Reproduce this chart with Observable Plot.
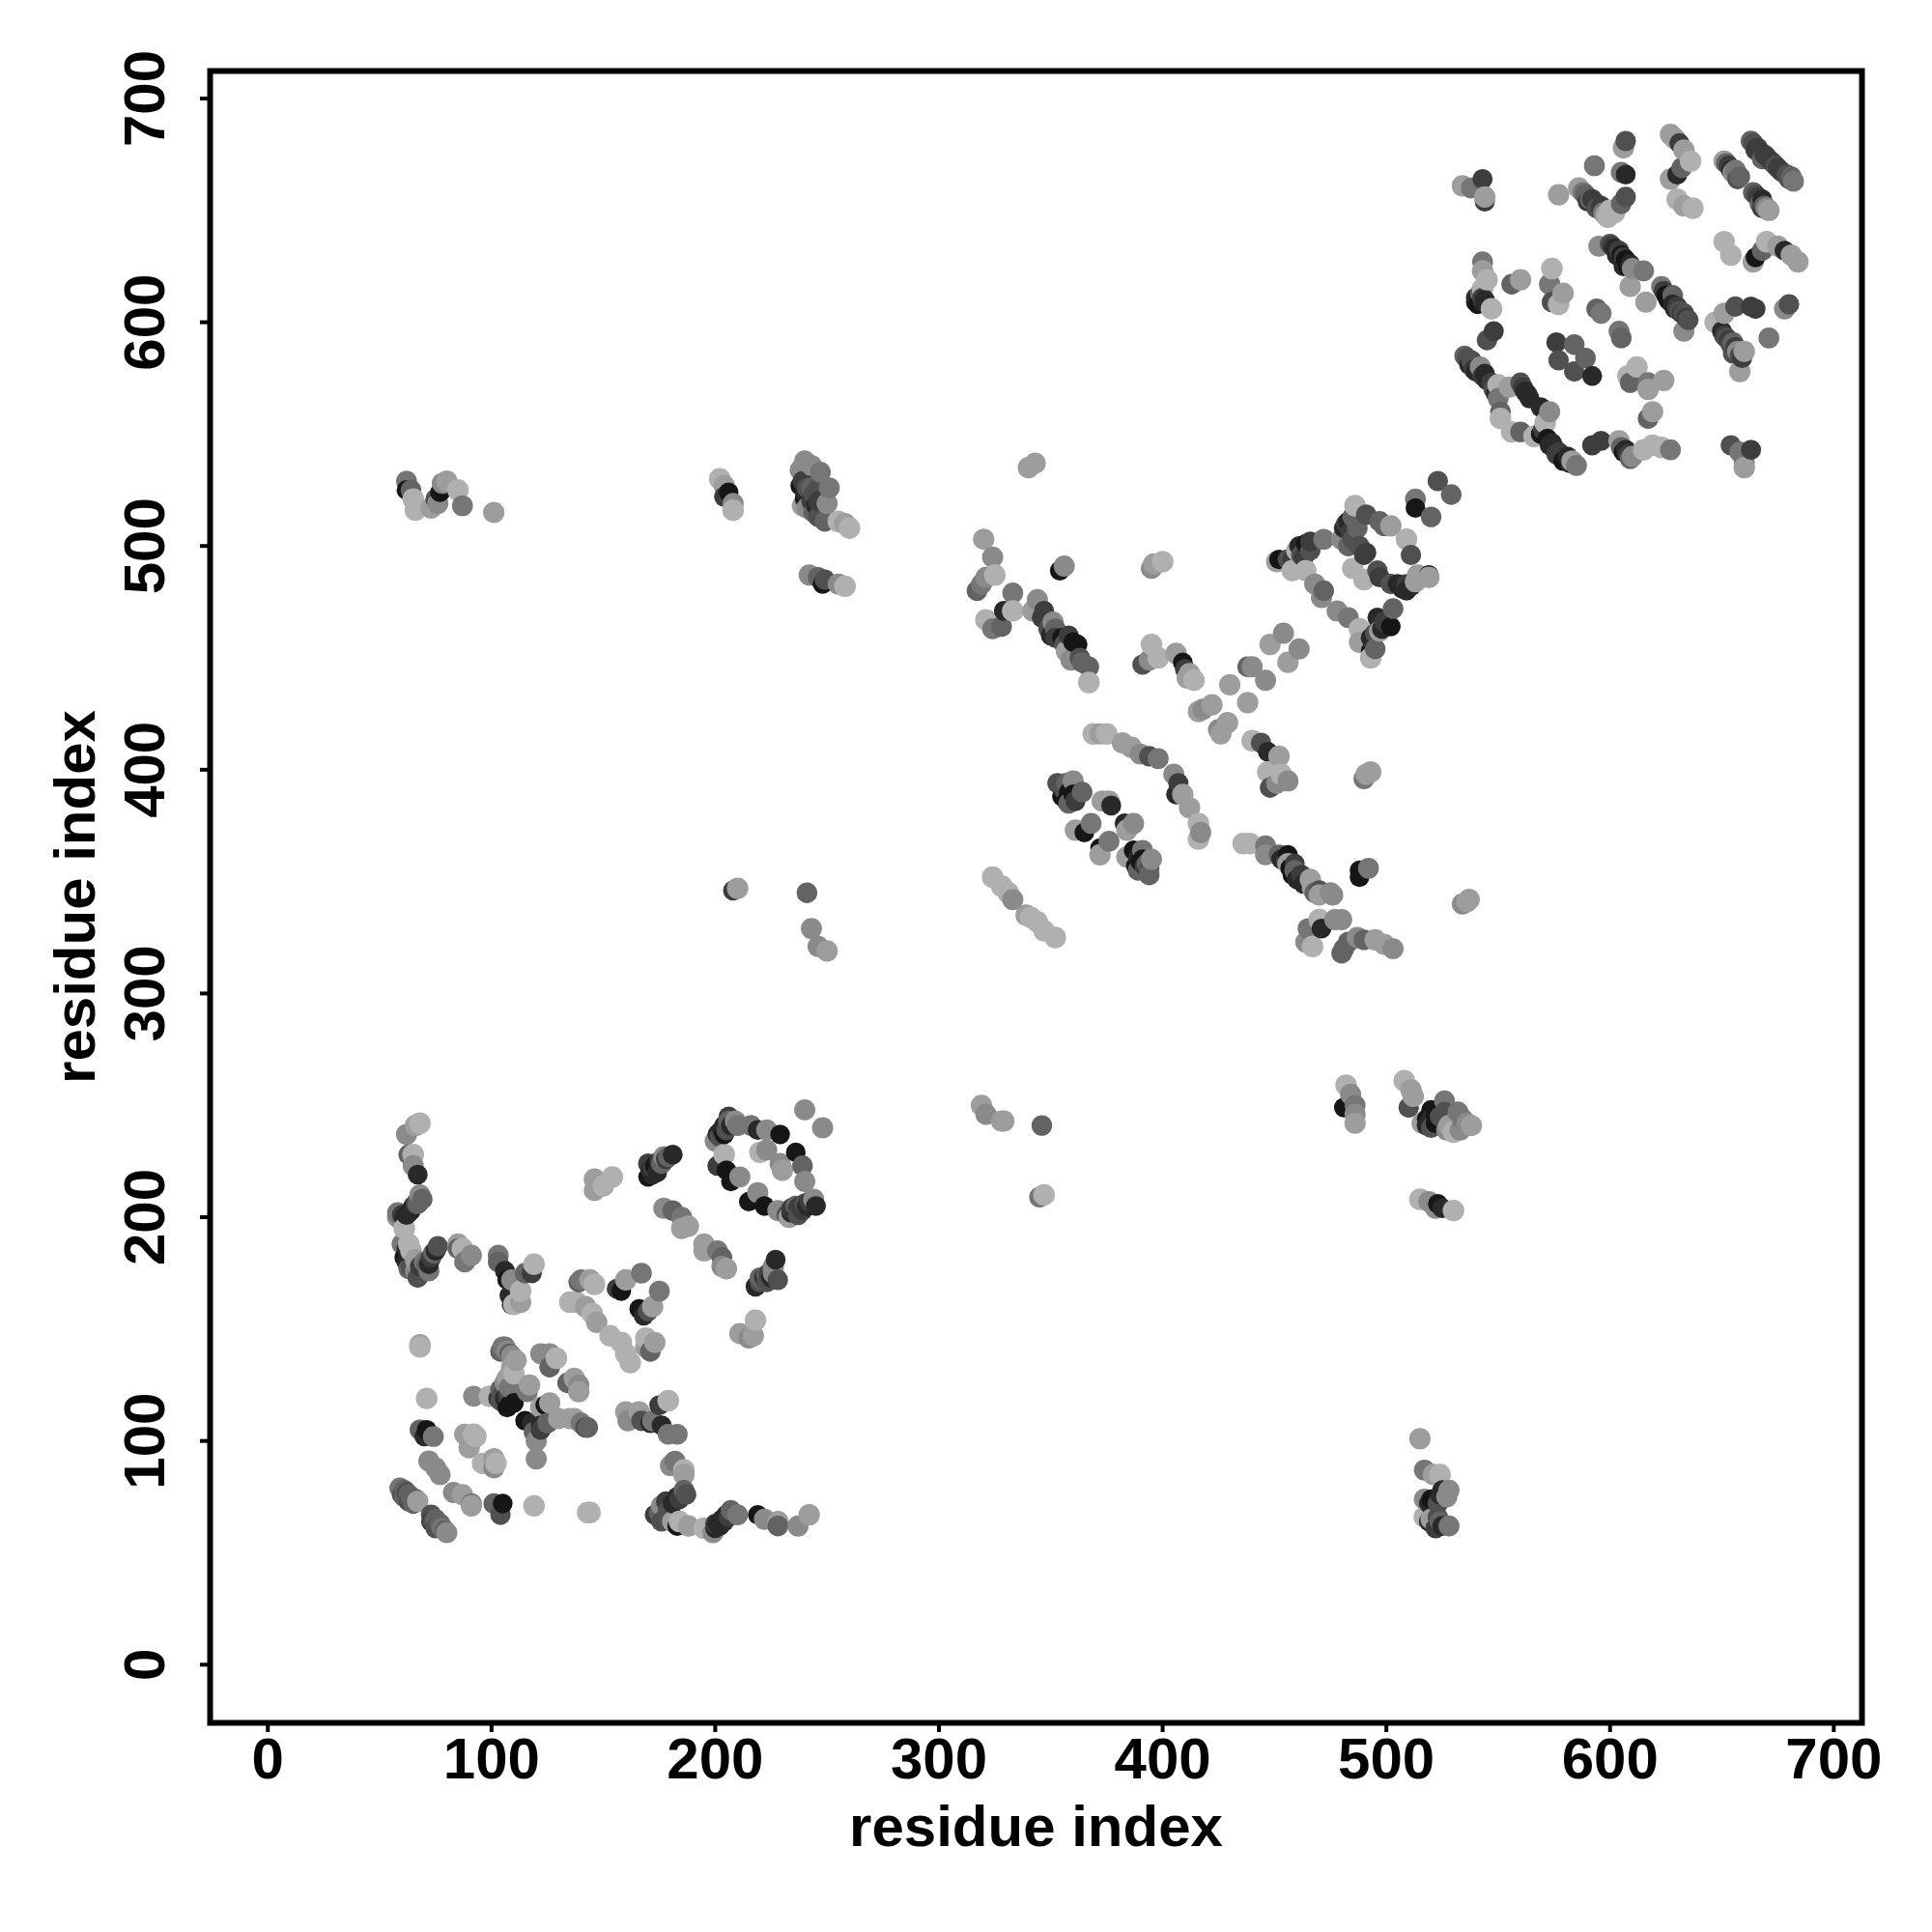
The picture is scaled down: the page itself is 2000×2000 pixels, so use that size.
<!DOCTYPE html>
<html><head><meta charset="utf-8">
<script src="https://cdn.jsdelivr.net/npm/d3@7"></script>
<script src="https://cdn.jsdelivr.net/npm/@observablehq/plot@0.6"></script>
<style>html,body{margin:0;padding:0;background:#fff}</style>
</head><body><div id="chart"></div>
<script>
// each contact: [residue i, residue j, shade 1 (darkest) .. 9 (lightest)]
const stemLeft=[[62,237,7],[66,241,8],[68,242,9],[63,228,5],[65,228,9],[65,223,7],[67,219,2],[68,210,7],[67,206,5],[69,208,5],[58,200,7],[58,202,6],[60,201,3],[61,200,2],[62,201,2],[63,202,2],[64,203,2],[65,205,2],[66,206,3],[67,207,5],[61,195,9],[60,188,6],[63,188,9],[64,185,9],[61,182,1],[63,177,5],[67,173,4],[66,176,7],[66,181,8],[71,179,5],[72,176,6],[73,182,3],[75,185,2],[76,187,4],[85,188,8],[85,186,5],[87,186,9],[88,180,6],[91,183,7],[62,186,2],[62,180,2],[64,178,4],[68,178,3],[70,180,6],[72,179,2],[74,184,5]];
const stemMid=[[103,183,6],[103,180,5],[106,176,2],[107,172,1],[109,172,7],[115,175,5],[118,175,3],[119,179,9],[108,165,2],[109,161,2],[113,162,8],[113,167,9],[110,161,9]];
const triangleA=[[139,171,5],[140,172,6],[144,172,8],[146,170,9],[135,162,9],[138,162,9],[142,160,8],[145,157,9],[147,153,8],[153,147,9],[158,144,9],[160,139,9],[162,135,9],[156,168,3],[158,167,1],[160,172,8],[167,175,6],[175,167,6],[166,159,1],[168,156,2],[170,158,4],[172,160,8],[171,140,5],[169,142,8],[169,146,9],[173,144,8]];
const sheetB=[[146,212,8],[146,217,8],[150,214,9],[154,218,9],[170,218,1],[170,224,3],[171,221,2],[173,223,1],[174,220,2],[175,225,3],[177,227,7],[181,228,2],[177,204,7],[181,203,5],[185,200,6],[185,195,8],[188,196,8],[195,188,8],[195,185,8],[201,185,6],[203,182,5],[203,178,7],[205,177,8],[211,148,8],[215,146,7],[217,147,8],[218,154,9],[218,169,2],[220,171,4],[228,172,4],[222,173,2],[224,175,3],[226,178,7],[227,181,2],[172,219,2],[176,224,5],[178,226,3],[179,227,5],[172,222,3],[219,170,2],[221,172,5],[223,174,5],[225,176,4],[223,171,4],[225,173,2],[226,175,7],[220,173,5]];
const ring=[[200,234,7],[201,237,2],[202,238,2],[203,239,2],[204,241,2],[206,245,3],[209,243,7],[210,241,6],[216,241,6],[219,239,2],[223,239,7],[229,237,1],[223,230,7],[220,229,9],[236,229,1],[239,223,5],[229,224,7],[230,221,8],[240,216,7],[201,223,3],[204,228,9],[205,221,1],[207,216,1],[211,218,7],[219,211,7],[215,207,1],[222,205,1],[228,203,7],[233,200,8],[232,201,4],[234,202,2],[236,203,2],[237,204,3],[238,205,3],[240,206,4],[244,208,7],[245,205,2],[240,248,7],[248,240,7],[202,236,4],[204,237,1],[205,239,4],[207,241,2],[206,243,5],[241,205,2],[242,207,3],[239,203,3],[236,205,5],[234,204,3],[237,201,4]];
const clusterC=[[68,143,8],[68,142,9],[71,119,9],[92,120,7],[99,120,9],[105,142,6],[106,142,6],[104,140,5],[109,138,7],[111,136,8],[110,130,9],[106,126,7],[104,123,5],[108,122,4],[103,119,3],[106,119,2],[104,118,4],[108,116,1],[107,115,1],[117,125,8],[116,122,6],[122,139,7],[126,139,7],[129,137,9],[126,133,5],[137,128,8],[134,126,5],[139,125,7],[139,122,8],[122,115,8],[124,116,1],[126,117,8],[107,120,3],[105,121,4],[108,124,6],[107,128,8],[109,133,8],[107,140,7],[108,139,5],[110,117,1]];
const clusterD=[[115,109,1],[118,108,2],[122,107,2],[119,104,5],[120,100,7],[122,105,3],[125,108,5],[130,110,8],[135,110,8],[137,110,8],[140,108,6],[142,106,4],[143,106,5],[120,92,7],[68,105,5],[71,105,1],[70,102,2],[74,102,6],[88,103,8],[90,97,8],[92,103,9],[93,102,9],[72,91,7],[75,88,7],[77,85,7],[96,90,9],[101,92,8],[102,90,9],[101,88,7]];
const clusterE=[[83,77,7],[87,76,8],[91,72,6],[91,71,8],[101,72,5],[104,67,4],[105,72,1],[119,71,9],[143,68,9],[144,68,9],[59,79,6],[61,78,5],[62,77,4],[63,76,5],[64,75,5],[66,74,5],[67,73,8],[73,67,4],[75,65,5],[77,63,5],[78,61,6],[80,59,7],[60,76,4],[61,75,5],[63,73,4],[65,72,5],[74,64,4],[76,62,4],[79,60,5],[73,64,3],[75,61,4]];
const clusterF=[[160,113,8],[161,109,7],[166,113,8],[167,109,4],[172,109,6],[171,108,2],[176,107,2],[179,103,6],[183,103,6],[175,116,3],[179,118,9],[180,89,7],[182,91,6],[186,87,9],[186,85,8],[187,76,4],[183,75,2],[178,73,3],[176,71,7],[173,67,3],[176,64,4],[181,64,8],[183,62,1],[184,64,9],[188,62,8],[195,61,9],[199,59,7],[200,61,2],[201,63,2],[203,65,2],[205,67,2],[207,69,5],[210,67,6],[219,67,1],[222,65,7],[228,64,8],[228,62,5],[237,62,7],[242,67,8],[202,62,2],[204,64,2],[206,66,3],[200,63,3],[179,69,4],[181,72,2],[184,74,3],[186,78,5],[175,68,5]];
const rightLower=[[482,259,9],[484,255,7],[481,249,1],[486,250,6],[486,246,7],[486,242,8],[508,261,9],[511,257,8],[512,254,8],[510,249,4],[516,242,8],[518,244,1],[520,248,1],[522,242,1],[526,252,6],[526,247,4],[527,239,7],[530,238,9],[532,247,6],[536,242,7],[538,241,8],[515,208,9],[519,207,7],[523,206,1],[525,204,2],[522,204,7],[530,203,9],[515,101,8],[517,87,6],[521,85,8],[524,85,9],[517,74,7],[520,74,1],[524,76,2],[527,75,7],[528,78,7],[517,66,9],[519,64,2],[520,65,8],[524,64,5],[525,62,2],[528,62,6],[518,241,2],[520,244,2],[522,246,1],[524,245,4],[520,240,4],[527,244,4],[528,241,8],[533,239,7],[534,244,6],[519,72,2],[522,74,1],[523,72,4],[525,78,2],[522,61,3],[523,66,4]];
const isolated=[[319,250,8],[321,246,7],[328,243,8],[329,243,8],[346,241,5],[345,209,6],[347,210,9],[208,346,3],[210,347,8],[241,345,5],[243,329,7],[246,321,7],[250,319,8],[340,535,8],[343,537,8]];
const upperLeft=[[62,529,6],[62,525,1],[64,525,5],[65,521,9],[66,516,9],[75,521,4],[76,519,7],[73,517,8],[77,524,1],[78,528,7],[80,529,8],[85,525,9],[87,518,6],[101,515,8],[202,530,9],[204,527,8],[206,524,1],[204,522,3],[208,519,7],[208,516,9],[238,534,7],[240,538,7],[243,536,7],[247,533,6],[238,527,1],[243,526,5],[246,526,4],[251,526,6],[240,521,1],[239,518,8],[245,518,2],[250,519,7],[246,513,4],[249,511,5],[255,511,9],[258,510,8],[260,508,9],[242,487,7],[246,486,5],[249,485,4],[248,483,1],[255,483,7],[258,482,9],[239,529,3],[240,524,2],[241,526,4],[243,520,3],[244,523,4],[246,520,3],[241,517,7],[244,515,5]];
const centerA=[[320,503,8],[324,495,7],[317,480,5],[319,483,6],[321,486,7],[325,487,9],[333,479,6],[329,471,2],[333,471,9],[321,467,9],[324,463,6],[328,464,5],[344,476,7],[342,471,8],[347,471,3],[351,466,7],[352,463,5],[350,460,2],[355,459,1],[358,460,3],[357,453,8],[359,449,7],[362,456,1],[363,450,4],[367,446,5],[367,439,9],[354,489,1],[356,491,7],[395,490,7],[396,492,8],[400,493,9],[346,468,3],[349,463,4],[352,459,3],[356,456,4],[360,457,1],[364,448,5]];
const centerB=[[451,493,8],[452,494,1],[458,494,3],[458,489,9],[464,489,9],[464,501,1],[460,498,9],[466,498,4],[463,495,3],[472,503,6],[468,483,7],[472,480,5],[471,477,7],[478,471,7],[483,468,6],[486,518,9],[483,511,2],[481,508,2],[480,503,7],[483,500,5],[490,496,3],[491,514,4],[497,511,5],[499,509,5],[502,509,8],[485,490,9],[496,489,4],[497,486,3],[502,483,4],[509,503,9],[511,496,4],[507,481,2],[509,483,3],[514,487,8],[519,487,1],[519,486,8],[490,485,9],[523,529,4],[529,523,5],[513,521,6],[513,517,1],[520,513,5],[484,506,3],[482,510,3],[485,513,5],[485,503,4],[487,508,5],[488,500,4],[491,497,3],[505,483,2],[509,480,2],[511,482,2],[513,484,8],[461,500,2],[462,496,4],[456,494,4],[466,502,3]];
const centerC=[[503,472,5],[497,467,2],[502,464,1],[497,462,8],[493,459,2],[488,463,9],[488,457,8],[493,453,1],[493,450,9],[454,461,7],[448,456,8],[461,454,7],[456,448,8],[438,446,5],[440,446,7],[446,440,7],[430,438,8],[438,430,8],[418,427,7],[416,426,8],[422,429,8],[429,421,8],[425,418,7],[426,416,8],[496,468,2],[499,466,3],[498,463,2],[495,461,4],[494,456,2],[495,454,5]];
const centerD=[[391,447,4],[394,449,7],[395,456,9],[398,450,9],[406,452,8],[409,448,1],[410,445,3],[411,441,8],[412,443,8],[414,440,9],[369,416,9],[372,416,8],[375,416,9],[382,412,8],[386,410,8],[390,407,7],[394,406,4],[398,405,6],[405,398,7],[407,394,3],[406,389,2],[409,389,8],[412,383,8],[416,376,9],[417,372,7],[416,369,9],[444,412,4],[440,413,9],[447,408,2],[452,406,8],[447,399,9],[448,392,4],[451,394,7],[453,398,9],[456,395,7],[490,396,6],[491,398,8],[493,399,8]];
const centerE=[[353,394,4],[357,394,5],[360,395,7],[355,388,1],[360,389,1],[361,386,3],[364,390,5],[373,386,8],[377,384,2],[376,386,8],[383,376,2],[387,376,7],[384,373,8],[361,373,8],[365,372,1],[368,376,6],[372,365,1],[372,362,8],[376,368,6],[384,361,8],[387,364,1],[391,364,6],[388,357,1],[390,359,1],[394,356,4],[394,353,5],[395,360,7],[356,391,4],[358,390,1],[357,386,1],[391,360,1],[389,361,2],[392,357,3],[393,358,5],[389,355,5],[358,385,5]];
const centerF=[[324,352,9],[328,348,9],[331,345,9],[333,342,7],[339,335,8],[341,334,9],[344,332,9],[347,328,9],[352,325,9]];
const centerG=[[436,367,9],[439,367,9],[446,366,6],[446,362,7],[452,362,5],[456,362,1],[456,358,8],[459,358,3],[458,353,1],[460,351,2],[466,351,8],[467,347,8],[470,346,4],[470,344,8],[475,345,7],[476,344,7],[488,352,1],[488,355,1],[492,356,6],[465,329,6],[464,323,7],[467,321,9],[471,329,2],[470,333,9],[477,333,7],[480,333,7],[480,318,5],[481,320,5],[483,323,5],[487,325,7],[490,324,5],[495,324,8],[499,322,8],[503,320,7],[534,340,7],[536,341,8],[537,342,8],[453,360,2],[455,359,3],[457,356,1],[459,355,5],[462,353,3],[463,349,2],[468,345,5]];
const topA=[[534,661,8],[538,660,6],[543,664,3],[544,654,3],[544,656,8],[577,657,8],[586,660,8],[588,658,6],[591,655,5],[594,653,3],[596,650,3],[599,647,9],[602,649,9],[605,653,5],[607,656,4],[606,678,8],[607,681,4],[593,670,6],[605,667,6],[607,666,2],[627,664,8],[630,666,2],[632,669,5],[627,684,8],[629,682,8],[631,680,3],[633,677,8],[636,672,9],[630,655,9],[633,652,8],[637,651,9],[589,657,5],[590,654,3],[592,655,3],[594,651,4],[596,652,3],[597,649,6],[598,648,8],[600,650,9]];
const topB=[[663,681,5],[666,678,3],[669,675,3],[672,672,3],[675,669,3],[679,666,4],[682,663,6],[651,672,8],[653,670,3],[655,667,7],[658,665,5],[664,658,5],[668,655,2],[671,650,8],[651,636,9],[654,630,9],[664,627,8],[665,629,1],[670,636,9],[668,632,5],[675,634,8],[678,632,2],[681,630,8],[684,627,8],[664,680,4],[665,677,3],[667,676,3],[668,673,5],[670,674,3],[673,671,3],[674,670,4],[676,668,3],[677,667,3],[680,664,4],[681,665,5],[654,668,2],[656,668,6],[652,671,5],[657,664,4],[665,657,4],[666,656,3],[667,653,5],[669,652,5],[670,651,7],[668,651,3]];
const topC=[[595,634,7],[600,635,4],[604,632,3],[607,628,1],[610,624,7],[615,623,6],[609,616,8],[543,627,6],[543,623,8],[545,619,9],[543,615,9],[540,611,2],[543,609,2],[547,606,9],[548,596,3],[545,592,4],[556,617,5],[560,619,8],[573,617,8],[574,624,9],[573,617,6],[574,609,4],[577,608,9],[579,613,8],[594,606,5],[596,604,6],[604,596,6],[605,593,5],[601,634,3],[602,633,2],[603,630,2],[605,630,1],[606,629,3],[608,625,1],[606,625,2],[609,626,2],[540,609,2],[541,608,1],[543,611,3],[544,610,2],[542,613,5]];
const topD=[[623,616,6],[616,609,8],[627,609,1],[630,607,3],[633,604,4],[635,601,4],[633,596,7],[628,612,5],[651,604,8],[656,607,4],[665,606,3],[663,607,3],[680,608,4],[678,606,7],[671,593,6],[647,600,9],[651,594,3],[653,592,3],[655,591,5],[660,587,8],[659,584,3],[658,578,8],[576,591,3],[584,590,5],[577,583,4],[589,584,5],[584,578,4],[592,576,2],[612,580,9],[608,576,9],[609,573,5],[617,573,6],[624,574,8],[617,570,8],[619,560,8],[617,557,5],[624,614,3],[625,612,1],[626,610,1],[628,608,2],[629,606,2],[631,605,4],[632,604,3],[634,602,3],[650,596,2],[652,593,4],[654,590,4],[656,589,3],[657,587,7],[655,586,4],[658,585,4]];
const topE=[[535,585,5],[538,583,4],[542,580,7],[544,577,2],[547,573,3],[550,572,9],[555,571,8],[560,573,4],[561,571,3],[562,569,2],[551,560,5],[551,557,9],[569,562,2],[573,560,7],[571,555,9],[556,551,9],[560,551,5],[566,549,9],[569,550,1],[573,545,2],[577,542,3],[581,540,2],[583,538,8],[585,536,6],[592,545,3],[596,547,3],[604,547,8],[607,543,2],[610,540,7],[615,543,9],[619,545,9],[623,544,9],[627,543,6],[654,545,4],[658,542,6],[663,543,3],[660,537,6],[660,535,8],[536,584,4],[537,581,2],[539,579,3],[540,578,2],[543,576,3],[545,574,2],[548,570,4],[549,568,2],[550,566,6],[563,568,2],[564,566,2],[570,552,3],[572,548,1],[574,546,2],[575,544,2],[576,541,3],[578,540,3],[579,538,1],[582,537,2],[605,544,5],[606,542,1],[608,541,3],[609,539,5]];
const tickValues=[0,100,200,300,400,500,600,700];
const axisTitle="residue index";

const table=[stemLeft,stemMid,triangleA,sheetB,ring,clusterC,clusterD,clusterE,clusterF,rightLower,isolated,upperLeft,centerA,centerB,centerC,centerD,centerE,centerF,centerG,topA,topB,topC,topD,topE]
  .flat().map(([i,j,shade])=>({i,j,shade}));

const chart=Plot.plot({
  width:2000,height:2000,
  marginLeft:217,marginRight:73,marginTop:73,marginBottom:217,
  style:{fontFamily:"'Liberation Sans',Arial,sans-serif",fontWeight:700,fontSize:"59px",background:"#fff",color:"#000"},
  x:{domain:[-25.8,712.6]},
  y:{domain:[-26,712.3]},
  color:{type:"linear",domain:[1,9],range:["#161616","#b0b0b0"]},
  r:{type:"linear",domain:[1,9],range:[10.2,11.2]},
  marks:[
    Plot.dot(table,{x:"i",y:"j",fill:"shade",r:"shade",stroke:"none",sort:"i"}),
    Plot.frame({stroke:"#000",strokeWidth:6}),
    Plot.axisX({ticks:tickValues,tickFormat:d=>String(d),tickSize:10,tickPadding:5,strokeWidth:4,fontSize:60,label:axisTitle,labelAnchor:"center",labelArrow:"none",labelOffset:127}),
    Plot.axisY({ticks:tickValues,tickFormat:d=>String(d),tickSize:10,tickPadding:38,strokeWidth:4,fontSize:60,tickRotate:-90,textAnchor:"middle",label:axisTitle,labelAnchor:"center",labelArrow:"none",labelOffset:162})
  ]
});
document.getElementById("chart").appendChild(chart);
</script></body></html>
